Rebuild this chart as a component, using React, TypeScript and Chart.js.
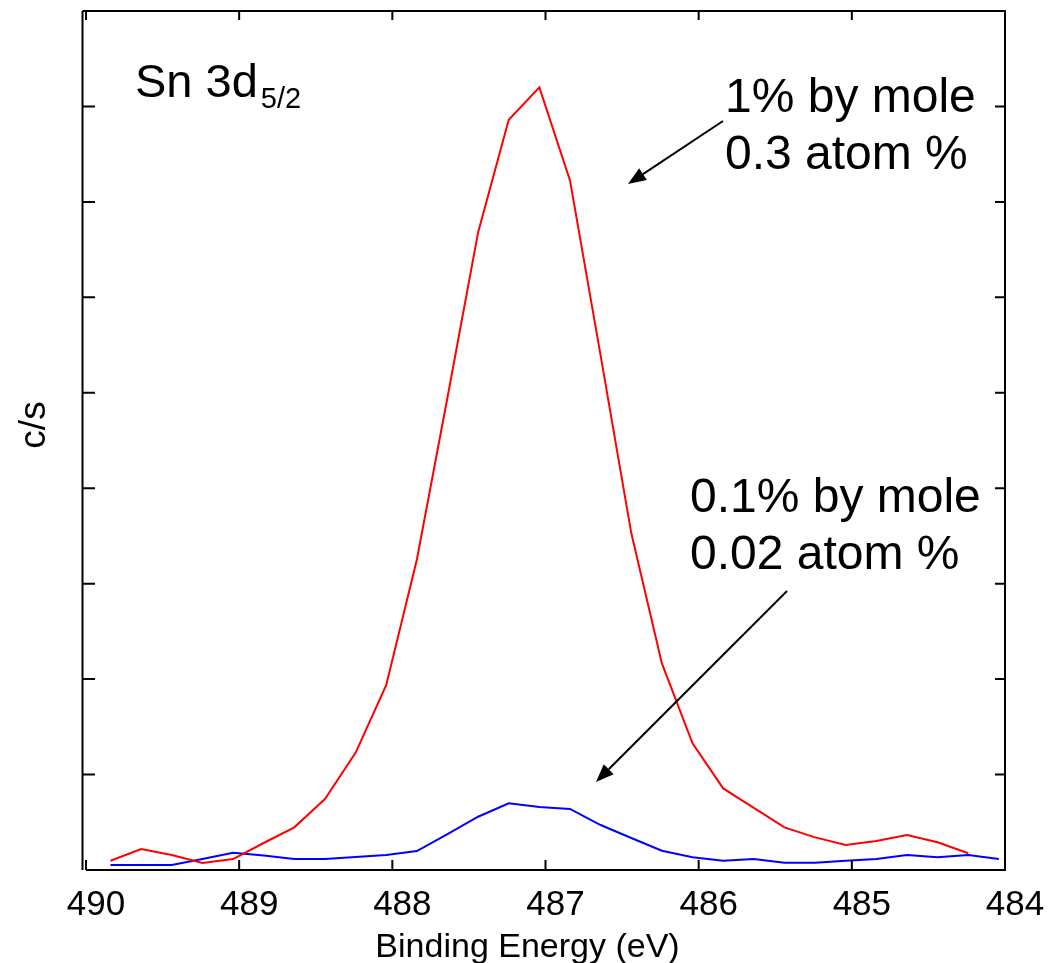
import React, { useEffect, useRef } from "react";
import { Chart, registerables } from "chart.js";

Chart.register(...registerables);

// Binding energies (eV)
const energies: number[] = [
  489.84, 489.64, 489.44, 489.24, 489.04, 488.84, 488.64, 488.44, 488.24, 488.04,
  487.84, 487.64, 487.44, 487.24, 487.04, 486.84, 486.64, 486.44, 486.24, 486.04,
  485.84, 485.64, 485.44, 485.24, 485.04, 484.84, 484.64, 484.44, 484.24, 484.04,
];

// 1% by mole (0.3 atom %) — red
const sample1pct: number[] = [
  0.097, 0.22, 0.157, 0.073, 0.115, 0.283, 0.447, 0.743, 1.228, 1.937,
  3.25, 4.95, 6.68, 7.86, 8.2, 7.225, 5.39, 3.53, 2.164, 1.327,
  0.855, 0.65, 0.447, 0.342, 0.262, 0.304, 0.366, 0.29, 0.175,
];

// 0.1% by mole (0.02 atom %) — blue
const sample01pct: number[] = [
  0.052, 0.052, 0.052, 0.115, 0.181, 0.152, 0.115, 0.115, 0.136, 0.157,
  0.199, 0.377, 0.558, 0.698, 0.66, 0.64, 0.471, 0.335, 0.202, 0.133,
  0.097, 0.115, 0.076, 0.076, 0.097, 0.115, 0.157, 0.133, 0.157, 0.115,
];

const xTicks: number[] = [490, 489, 488, 487, 486, 485, 484];
const yTicks: number[] = [1, 2, 3, 4, 5, 6, 7, 8];
const xTitle = "Binding Energy (eV)";
const yTitle = "c/s";

const FONT = "Arial, 'Liberation Sans', Helvetica, sans-serif";

const framePlugin = {
  id: "xpsFrame",
  afterDraw(chart: any) {
    const ctx = chart.ctx as CanvasRenderingContext2D;
    const { left, right, top, bottom } = chart.chartArea;
    const xs = chart.scales.x;
    const ys = chart.scales.y;
    ctx.save();
    ctx.strokeStyle = "#000";
    ctx.fillStyle = "#000";
    ctx.lineWidth = 2;
    // frame
    ctx.beginPath();
    ctx.moveTo(left - 3.5, top);
    ctx.lineTo(left - 3.5, bottom);
    ctx.moveTo(left, bottom);
    ctx.lineTo(right, bottom);
    ctx.lineTo(right, top);
    ctx.lineTo(left - 3.5, top);
    ctx.stroke();
    // x ticks (inward, bottom and top)
    ctx.beginPath();
    xTicks.forEach((v) => {
      const px = xs.getPixelForValue(v);
      ctx.moveTo(px, bottom);
      ctx.lineTo(px, bottom - 10);
      ctx.moveTo(px, top);
      ctx.lineTo(px, top + 9);
    });
    // y ticks (inward, left and right)
    yTicks.forEach((v) => {
      const py = ys.getPixelForValue(v);
      ctx.moveTo(left - 3.5, py);
      ctx.lineTo(left + 9, py);
      ctx.moveTo(right, py);
      ctx.lineTo(right - 10, py);
    });
    ctx.stroke();
    // x tick labels
    ctx.font = `35px ${FONT}`;
    ctx.textAlign = "center";
    ctx.textBaseline = "alphabetic";
    xTicks.forEach((v) => {
      const px = xs.getPixelForValue(v);
      ctx.fillText(String(v), px + 10, bottom + 45);
    });
    // x title
    ctx.font = `34px ${FONT}`;
    ctx.fillText(xTitle, 527.5, 957);
    // y title
    ctx.save();
    ctx.translate(45, 425);
    ctx.rotate(-Math.PI / 2);
    ctx.font = `37px ${FONT}`;
    ctx.textAlign = "center";
    ctx.fillText(yTitle, 0, 0);
    ctx.restore();
    // Annotations
    ctx.textAlign = "left";
    ctx.font = `47px ${FONT}`;
    ctx.fillText("Sn 3d", 135, 97);
    const w = ctx.measureText("Sn 3d").width;
    ctx.font = `29px ${FONT}`;
    ctx.fillText("5/2", 135 + w + 3, 108);
    ctx.font = `48px ${FONT}`;
    ctx.fillText("1% by mole", 725, 112);
    ctx.fillText("0.3 atom %", 725, 169);
    ctx.fillText("0.1% by mole", 690, 512);
    ctx.fillText("0.02 atom %", 690, 569);
    // arrows
    const arrow = (x1: number, y1: number, x2: number, y2: number) => {
      const ang = Math.atan2(y2 - y1, x2 - x1);
      const hl = 18;
      const hw = 7;
      const bx = x2 - hl * Math.cos(ang);
      const by = y2 - hl * Math.sin(ang);
      ctx.beginPath();
      ctx.moveTo(x1, y1);
      ctx.lineTo(bx, by);
      ctx.lineWidth = 2;
      ctx.stroke();
      ctx.beginPath();
      ctx.moveTo(x2, y2);
      ctx.lineTo(bx + hw * Math.sin(ang), by - hw * Math.cos(ang));
      ctx.lineTo(bx - hw * Math.sin(ang), by + hw * Math.cos(ang));
      ctx.closePath();
      ctx.fill();
    };
    arrow(723, 121, 628, 184);
    arrow(787, 591, 596, 782);
    ctx.restore();
  },
};

export default function App() {
  const ref = useRef<HTMLCanvasElement | null>(null);
  useEffect(() => {
    document.body.style.margin = "0";
    const canvas = ref.current;
    if (!canvas) return;
    const chart = new Chart(canvas, {
      type: "line",
      data: {
        datasets: [
          {
            label: "1% by mole",
            data: sample1pct.map((y, i) => ({ x: energies[i], y })),
            borderColor: "#ff0000",
            borderWidth: 2,
            pointRadius: 0,
            tension: 0,
            fill: false,
          },
          {
            label: "0.1% by mole",
            data: sample01pct.map((y, i) => ({ x: energies[i], y })),
            borderColor: "#0000ff",
            borderWidth: 2,
            pointRadius: 0,
            tension: 0,
            fill: false,
          },
        ],
      },
      options: {
        responsive: false,
        animation: false,
        layout: { padding: { left: 86, right: 44, top: 11, bottom: 93 } },
        plugins: { legend: { display: false }, tooltip: { enabled: false } },
        scales: {
          x: { type: "linear", min: 484, max: 490, reverse: true, display: false },
          y: { type: "linear", min: 0, max: 9, display: false },
        },
      },
      plugins: [framePlugin],
    });
    return () => chart.destroy();
  }, []);
  return (
    <div style={{ position: "absolute", left: 0, top: 0, width: 1049, height: 963, background: "#fff" }}>
      <canvas ref={ref} width={1049} height={963} style={{ display: "block" }} />
    </div>
  );
}
